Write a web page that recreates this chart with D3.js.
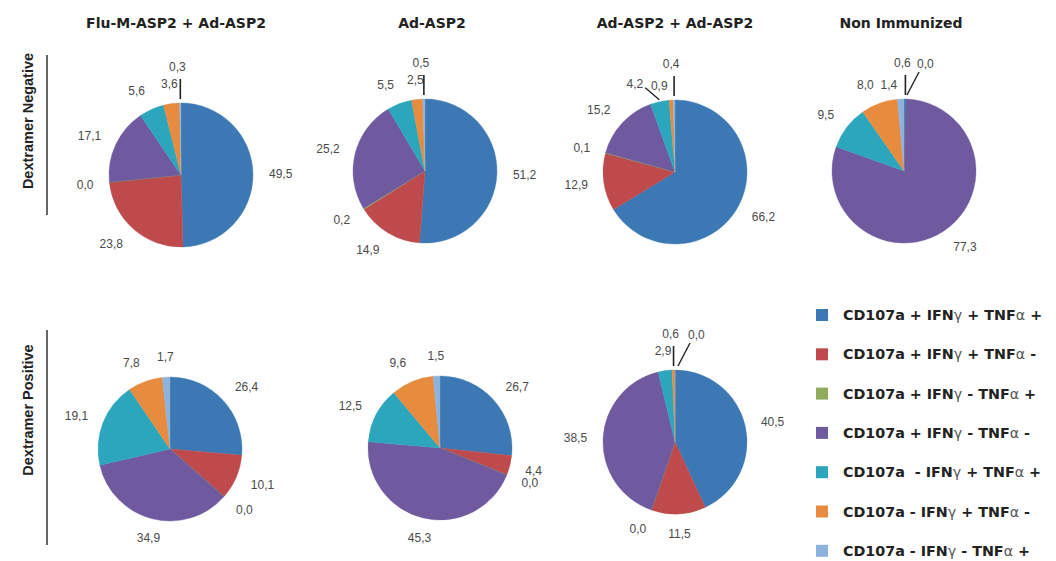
<!DOCTYPE html>
<html><head><meta charset="utf-8">
<script src="https://cdn.jsdelivr.net/npm/d3@7"></script>
<style>body{margin:0;background:#fff} svg{display:block}</style>
</head><body>
<svg id="chart" width="1056" height="561"></svg>
<script>
// ---------- data ----------
const categories = [
  "CD107a + IFNγ + TNFα +",
  "CD107a + IFNγ + TNFα -",
  "CD107a + IFNγ - TNFα +",
  "CD107a + IFNγ - TNFα -",
  "CD107a  - IFNγ + TNFα +",
  "CD107a - IFNγ + TNFα -",
  "CD107a - IFNγ - TNFα +"
];
const groups = ["Flu-M-ASP2 + Ad-ASP2", "Ad-ASP2", "Ad-ASP2 + Ad-ASP2", "Non Immunized"];
const rows = ["Dextramer Negative", "Dextramer Positive"];

const negFluAd = [49.5, 23.8, 0.0, 17.1, 5.6, 3.6, 0.3];
const negAd    = [51.2, 14.9, 0.2, 25.2, 5.5, 2.5, 0.5];
const negAdAd  = [66.2, 12.9, 0.1, 15.2, 4.2, 0.9, 0.4];
const negNon   = [0.6, 0.0, null, 77.3, 9.5, 8.0, 1.4];
const posFluAd = [26.4, 10.1, 0.0, 34.9, 19.1, 7.8, 1.7];
const posAd    = [26.7, 4.4, 0.0, 45.3, 12.5, 9.6, 1.5];
const posAdAd  = [40.5, 11.5, 0.0, 38.5, 2.9, 0.6, 0.0];

// ---------- style / layout ----------
const colors = ["#3c78b4", "#be4a4c", "#8eac5c", "#6f5a9f", "#2ba6bd", "#e78c3e", "#8db3dc"];
const panels = [
  {row: 0, col: 0, values: negFluAd},
  {row: 0, col: 1, values: negAd},
  {row: 0, col: 2, values: negAdAd},
  {row: 0, col: 3, values: negNon},
  {row: 1, col: 0, values: posFluAd},
  {row: 1, col: 1, values: posAd},
  {row: 1, col: 2, values: posAdAd}
];
const nudge = {"0-0": [5, 2], "0-1": [-7, -2], "0-2": [0, -1], "0-3": [0, -2],
               "1-0": [-6, 3], "1-1": [8, 2], "1-2": [0, -4]};
const hints = {"0-0": {6: "v"}, "0-1": {6: "v"}, "0-2": {4: "dl", 5: "nl", 6: "v"},
               "0-3": {0: "v", 1: "d", 6: "nl"}, "1-2": {5: "v", 6: "d"}};
const R = 72, LR = 16;

const svg = d3.select("#chart");
const colX = d3.scaleOrdinal().domain(d3.range(4)).range([176, 432, 675, 904]);
const rowY = d3.scaleOrdinal().domain(d3.range(2)).range([173, 446]);
const color = d3.scaleOrdinal().domain(d3.range(categories.length)).range(colors);
const fmt = v => v.toFixed(1).replace(".", ",");
const polar = (rr, a) => [Math.sin(a) * rr, -Math.cos(a) * rr];

// column titles
svg.selectAll("text.title").data(groups).join("text")
  .attr("class", "title")
  .attr("x", (d, i) => colX(i) + (i === 3 ? -3 : 0))
  .attr("y", 23).attr("dy", "0.35em")
  .attr("text-anchor", "middle")
  .attr("font-family", "DejaVu Sans").attr("font-weight", "bold").attr("font-size", 14)
  .attr("fill", "#222").text(d => d);

// row labels + lines
const rowLabelY = [121, 410], rowLine = [[55, 215], [330, 545]];
rows.forEach((r, i) => {
  svg.append("text")
    .attr("transform", `translate(28,${rowLabelY[i]}) rotate(-90)`)
    .attr("text-anchor", "middle").attr("dy", "0.35em")
    .attr("font-family", "Liberation Sans").attr("font-weight", "bold").attr("font-size", 14.5)
    .attr("fill", "#222").text(r);
  svg.append("line").attr("x1", 47).attr("x2", 47)
    .attr("y1", rowLine[i][0]).attr("y2", rowLine[i][1])
    .attr("stroke", "#333").attr("stroke-width", 1.5);
});

const pie = d3.pie().sort(null).value(d => d.v);
const arc = d3.arc().innerRadius(0).outerRadius(R);

panels.forEach(p => {
  const key = p.row + "-" + p.col;
  const nd = nudge[key] || [0, 0];
  const cx = colX(p.col) + nd[0], cy = rowY(p.row) + nd[1];
  const g = svg.append("g").attr("transform", `translate(${cx},${cy})`);
  const items = p.values.map((v, i) => ({v, i})).filter(d => d.v !== null);
  const arcs = pie(items);
  g.selectAll("path").data(arcs).join("path")
    .attr("d", arc).attr("fill", d => color(d.data.i))
    .attr("stroke", d => color(d.data.i)).attr("stroke-width", 0.4);

  const h = hints[key] || {};
  arcs.forEach(d => {
    const mid = (d.startAngle + d.endAngle) / 2;
    const mode = h[d.data.i];
    const txt = fmt(d.data.v);
    let x, y, anchor;
    if (mode === "v") {
      const lx = polar(R, mid)[0];
      g.append("line").attr("x1", lx).attr("x2", lx).attr("y1", -R - 4).attr("y2", -R - 24)
        .attr("stroke", "#222").attr("stroke-width", 1.6);
      x = lx - 3; y = -R - 36; anchor = "middle";
    } else if (mode === "d") {
      g.append("line").attr("x1", 3).attr("x2", 15).attr("y1", -R - 4).attr("y2", -R - 27)
        .attr("stroke", "#222").attr("stroke-width", 1.4);
      x = 13; y = -R - 35; anchor = "start";
    } else if (mode === "dl") {
      const [sx, sy] = polar(R + 2, mid);
      g.append("line").attr("x1", sx).attr("y1", sy).attr("x2", sx - 14).attr("y2", sy - 12)
        .attr("stroke", "#222").attr("stroke-width", 1.4);
      x = sx - 16; y = sy - 16; anchor = "end";
    } else if (mode === "nl") {
      [x, y] = polar(R + 10, mid); x -= 3; y -= 4; anchor = "end";
    } else {
      [x, y] = polar(R + LR, mid);
      const s = Math.sin(mid);
      anchor = s > 0.3 ? "start" : s < -0.3 ? "end" : "middle";
      y += -Math.cos(mid) * 4;
    }
    g.append("text").attr("x", x).attr("y", y).attr("dy", "0.35em")
      .attr("text-anchor", anchor)
      .attr("font-family", "Liberation Sans").attr("font-size", 12)
      .attr("fill", "#4a4a4a").text(txt);
  });
});

// legend
const leg = svg.append("g");
categories.forEach((c, i) => {
  const y = 315 + i * 39.3;
  leg.append("rect").attr("x", 816).attr("y", y - 6).attr("width", 12).attr("height", 12)
    .attr("fill", color(i));
  const t = leg.append("text").attr("x", 843).attr("y", y).attr("dy", "0.35em")
    .attr("font-family", "DejaVu Sans").attr("font-weight", "bold").attr("font-size", 14.3)
    .attr("fill", "#222").attr("xml:space", "preserve").style("white-space", "pre");
  c.split(/([γα])/).forEach(part => {
    if (!part) return;
    const ts = t.append("tspan").text(part);
    if (part === "γ" || part === "α") ts.attr("font-weight", "normal").attr("fill", "#555");
  });
});
</script>
</body></html>
